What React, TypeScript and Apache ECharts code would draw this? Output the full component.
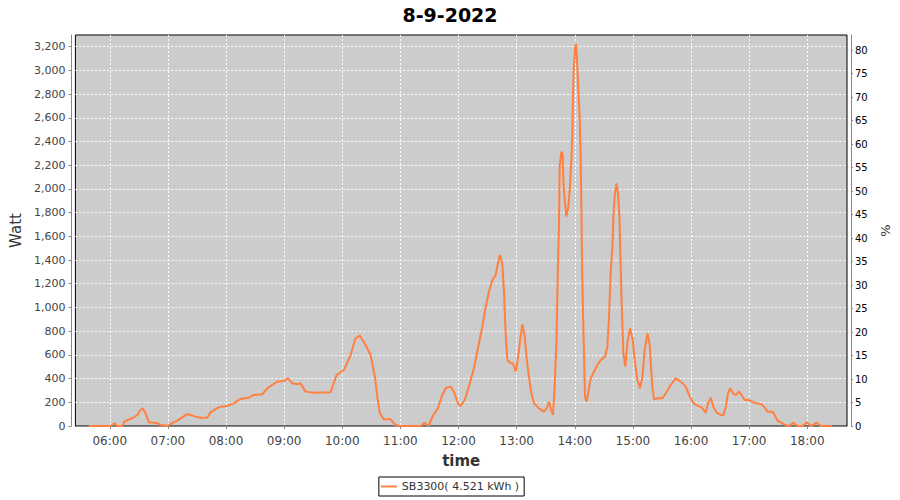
import React, { useEffect, useRef } from "react";
import * as echarts from "echarts";

const titleText = "8-9-2022";
const seriesName = "SB3300( 4.521 kWh )";
const hourTicks = ["06:00", "07:00", "08:00", "09:00", "10:00", "11:00", "12:00", "13:00", "14:00", "15:00", "16:00", "17:00", "18:00"];
const wattTicks = [0, 200, 400, 600, 800, 1000, 1200, 1400, 1600, 1800, 2000, 2200, 2400, 2600, 2800, 3000, 3200];
const pctTicks = [0, 5, 10, 15, 20, 25, 30, 35, 40, 45, 50, 55, 60, 65, 70, 75, 80];

const times = [
  "05:38:20", "06:00:40", "06:05:10", "06:07:35", "06:12:50", "06:15:10", "06:18:00", "06:23:05", "06:28:20", "06:31:40",
  "06:34:05", "06:36:55", "06:40:20", "06:49:00", "06:52:25", "06:59:20", "07:02:40", "07:09:35", "07:14:50", "07:19:55",
  "07:23:20", "07:28:30", "07:33:40", "07:40:35", "07:44:00", "07:50:55", "07:54:20", "08:01:10", "08:08:00", "08:15:00",
  "08:23:30", "08:28:40", "08:37:25", "08:42:30", "08:47:40", "08:52:55", "08:59:40", "09:03:50", "09:08:25", "09:13:30",
  "09:16:55", "09:22:05", "09:30:40", "09:47:55", "09:54:05", "10:01:35", "10:08:35", "10:13:40", "10:18:10", "10:24:05",
  "10:29:10", "10:33:40", "10:36:05", "10:38:50", "10:43:00", "10:49:55", "10:55:00", "11:00:10", "11:20:55", "11:25:00",
  "11:28:50", "11:34:00", "11:38:40", "11:42:30", "11:46:40", "11:51:50", "11:55:10", "11:59:25", "12:02:10", "12:06:20",
  "12:10:40", "12:15:55", "12:21:05", "12:24:35", "12:28:00", "12:31:25", "12:34:55", "12:38:20", "12:40:40", "12:42:40",
  "12:45:10", "12:46:55", "12:48:35", "12:50:25", "12:53:50", "12:56:10", "12:59:00", "13:01:20", "13:04:05", "13:05:55",
  "13:08:20", "13:10:20", "13:12:40", "13:15:10", "13:17:55", "13:23:00", "13:28:10", "13:31:00", "13:33:25", "13:35:05",
  "13:37:30", "13:39:10", "13:41:00", "13:42:35", "13:43:40", "13:44:25", "13:46:10", "13:47:30", "13:48:10", "13:49:35",
  "13:51:20", "13:53:25", "13:55:00", "13:56:30", "13:57:30", "13:58:05", "13:58:55", "14:00:10", "14:01:10", "14:02:20",
  "14:03:20", "14:05:05", "14:06:05", "14:06:50", "14:07:25", "14:08:30", "14:09:30", "14:10:30", "14:12:20", "14:14:40",
  "14:16:25", "14:19:50", "14:23:20", "14:26:40", "14:31:10", "14:33:40", "14:35:20", "14:37:05", "14:38:50", "14:39:55",
  "14:41:10", "14:43:00", "14:44:35", "14:46:05", "14:46:40", "14:48:05", "14:49:05", "14:50:10", "14:52:10", "14:54:20",
  "14:57:00", "14:59:50", "15:01:50", "15:04:35", "15:07:20", "15:09:50", "15:12:10", "15:15:00", "15:17:25", "15:18:25",
  "15:20:05", "15:21:50", "15:25:20", "15:30:30", "15:33:55", "15:39:00", "15:44:10", "15:49:25", "15:54:30", "15:57:55",
  "16:02:30", "16:06:35", "16:08:20", "16:11:50", "16:15:10", "16:17:35", "16:20:20", "16:23:05", "16:26:30", "16:30:40",
  "16:33:30", "16:35:50", "16:38:10", "16:40:20", "16:43:50", "16:46:10", "16:49:35", "16:52:05", "16:55:25", "16:59:55",
  "17:03:25", "17:06:50", "17:12:00", "17:15:25", "17:18:55", "17:24:05", "17:26:25", "17:29:10", "17:34:25", "17:37:50",
  "17:41:10", "17:45:50", "17:49:55", "17:55:05", "17:59:35", "18:03:35", "18:09:50", "18:14:00", "18:25:20"
];

const watts = [
  0, 0, 25, 0, 0, 35, 50, 65, 93, 135,
  150, 107, 31, 25, 8, 0, 17, 45, 73, 100,
  93, 79, 70, 70, 115, 150, 163, 169, 191, 230,
  239, 262, 267, 318, 346, 374, 380, 402, 360, 352,
  360, 290, 281, 284, 430, 472, 599, 740, 762, 683,
  599, 416, 247, 107, 56, 56, 8, 0, 0, 28,
  0, 93, 149, 247, 318, 332, 290, 191, 169, 219,
  332, 487, 698, 838, 1006, 1133, 1232, 1274, 1372, 1443,
  1372, 1133, 782, 557, 529, 529, 458, 571, 753, 858,
  753, 571, 416, 276, 191, 149, 121, 149, 205, 149,
  93, 320, 700, 1344, 1681, 2187, 2314, 2286, 2075, 1907,
  1766, 1850, 2019, 2244, 2497, 2778, 3003, 3172, 3223, 3088,
  2891, 2609, 2258, 1822, 1400, 951, 613, 247, 205, 318,
  402, 458, 515, 557, 585, 669, 922, 1288, 1513, 1766,
  1934, 2047, 1963, 1766, 1569, 1119, 866, 613, 500, 698,
  824, 725, 557, 388, 318, 416, 641, 782, 683, 529,
  332, 225, 234, 234, 276, 346, 402, 374, 332, 262,
  191, 171, 169, 149, 112, 191, 239, 163, 112, 93,
  93, 163, 276, 318, 270, 262, 290, 262, 219, 219,
  205, 191, 186, 163, 121, 121, 93, 45, 22, 6,
  0, 28, 0, 0, 31, 0, 28, 0, 0
];

const toMin = (s: string) => {
  const p = s.split(":").map(Number);
  return p[0] * 60 + p[1] + (p[2] || 0) / 60;
};

const LINE = "#ff8040";
const FONT = "DejaVu Sans";

export default function App() {
  const ref = useRef<HTMLDivElement>(null);
  useEffect(() => {
    if (!ref.current) return;
    const chart = echarts.init(ref.current, null, { renderer: "svg" });
    const data = times.map((t, i) => [toMin(t), watts[i]]);
    const hourVals = hourTicks.map(toMin);
    const fmtTime = (v: number) => {
      const h = Math.floor(v / 60);
      const m = Math.round(v % 60);
      return String(h).padStart(2, "0") + ":" + String(m).padStart(2, "0");
    };
    const dashed = { color: "#ffffff", type: [2, 2], width: 1 };
    chart.setOption({
      animation: false,
      backgroundColor: "#ffffff",
      textStyle: { fontFamily: FONT },
      title: {
        text: titleText,
        left: "center",
        top: 0,
        textStyle: { fontFamily: FONT, fontSize: 19, fontWeight: "bold", color: "#000" },
      },
      legend: {
        top: 477,
        left: "center",
        data: [seriesName],
        icon: "rect",
        borderColor: "#000",
        borderWidth: 1,
        borderRadius: 0,
        padding: [4, 5, 4, 2],
        itemWidth: 16,
        itemHeight: 2,
        itemGap: 4,
        textStyle: { fontFamily: FONT, fontSize: 11, color: "#333" },
      },
      grid: {
        left: 75,
        right: 53,
        top: 35,
        bottom: 74,
        show: true,
        backgroundColor: "#cccccc",
        borderColor: "#000",
        borderWidth: 1,
        containLabel: false,
      },
      xAxis: {
        type: "value",
        min: 324.5,
        max: 1121,
        offset: 4,
        name: "time",
        nameLocation: "middle",
        nameGap: 23,
        nameTextStyle: { fontFamily: FONT, fontSize: 15, fontWeight: "bold", color: "#333" },
        axisLine: { show: true, lineStyle: { color: "#888", width: 1 } },
        axisTick: { show: true, length: 3, customValues: hourVals, lineStyle: { color: "#888" } },
        axisLabel: {
          customValues: hourVals,
          formatter: (v: number) => fmtTime(v),
          fontFamily: FONT,
          fontSize: 12,
          color: "#444",
          margin: 5,
        },
        splitLine: { show: true, lineStyle: dashed },
      },
      yAxis: [
        {
          type: "value",
          min: 0,
          max: 3298,
          offset: 4,
          position: "left",
          name: "Watt",
          nameLocation: "middle",
          nameGap: 35,
          nameRotate: 90,
          nameTextStyle: { fontFamily: FONT, fontSize: 15, color: "#333" },
          axisLine: { show: true, lineStyle: { color: "#888", width: 1 } },
          axisTick: { show: true, length: 3, customValues: wattTicks, lineStyle: { color: "#888" } },
          axisLabel: {
            customValues: wattTicks,
            fontFamily: FONT,
            fontSize: 11,
            color: "#444",
            margin: 6,
            formatter: (v: number) => v.toLocaleString("en-US"),
          },
          splitLine: { show: true, lineStyle: dashed },
        },
        {
          type: "value",
          min: 0,
          max: 83.2,
          offset: 4,
          position: "right",
          name: "%",
          nameLocation: "middle",
          nameGap: 18,
          nameRotate: 90,
          nameTextStyle: { fontFamily: FONT, fontSize: 13, color: "#333" },
          axisLine: { show: true, lineStyle: { color: "#888", width: 1 } },
          axisTick: { show: true, length: 2, customValues: pctTicks, lineStyle: { color: "#888" } },
          axisLabel: {
            customValues: pctTicks,
            fontFamily: FONT,
            fontSize: 10,
            color: "#000",
            margin: 4,
          },
          splitLine: { show: false },
        },
      ],
      series: [
        {
          name: seriesName,
          type: "line",
          yAxisIndex: 0,
          data,
          showSymbol: false,
          symbol: "none",
          lineStyle: { color: LINE, width: 2 },
          itemStyle: { color: LINE },
          z: 3,
        },
      ],
    });
    return () => chart.dispose();
  }, []);
  return (
    <div
      ref={ref}
      style={{ position: "absolute", left: 0, top: 0, width: 900, height: 500 }}
    />
  );
}
